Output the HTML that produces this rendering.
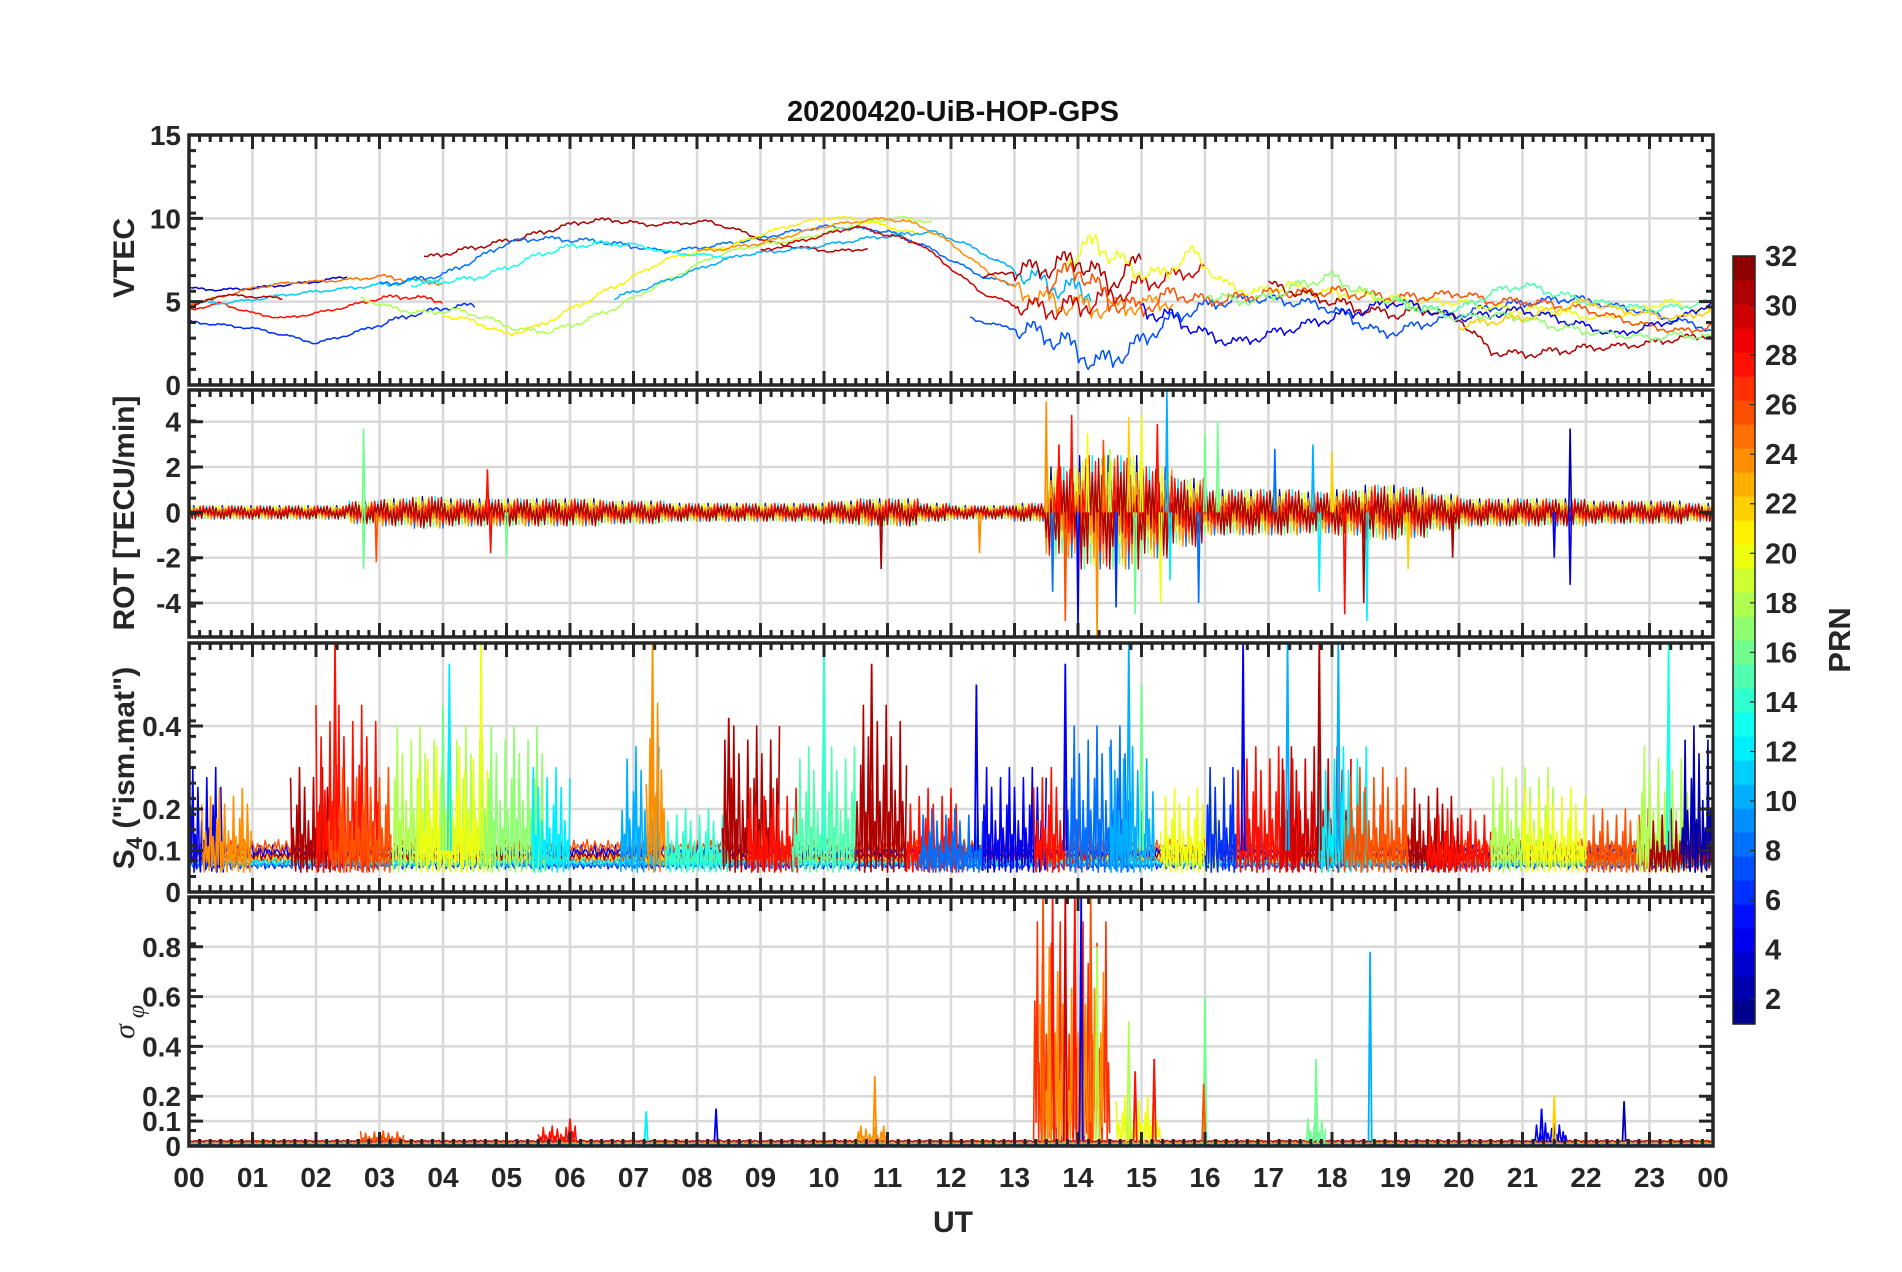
<!DOCTYPE html>
<html><head><meta charset="utf-8"><style>
body{margin:0;background:#fff}
svg{display:block;font-family:"Liberation Sans",sans-serif;font-weight:bold}
</style></head><body>
<svg id="c" width="1902" height="1272" viewBox="0 0 1902 1272"></svg>
<script>
// ---------- DATA ----------
const hourTicks=["00","01","02","03","04","05","06","07","08","09","10","11","12","13","14","15","16","17","18","19","20","21","22","23","00"];
const vtecTicks=[0,5,10,15];
const rotTicks=[-4,-2,0,2,4];
const s4Ticks=[0,0.1,0.2,0.4];
const sigTicks=[0,0.1,0.2,0.4,0.6,0.8];
const cbTicks=[2,4,6,8,10,12,14,16,18,20,22,24,26,28,30,32];
// VTEC arcs: [startHour, prn, values every 0.5h]
const vtecArcs=[
[0,3,[5.8,5.7,5.8,6.0,6.2,6.5]],
[0,6,[3.8,3.6,3.4,3.0,2.5,3.0,3.6,4.2,4.6,4.8]],
[0,28,[4.5,4.9,4.3,4.0,4.3,4.7,5.2,5.3,5.0]],
[0,25,[4.8,5.3,5.8,6.1,6.2,6.3,6.5,6.3,6.1]],
[0,11,[5.0,4.9,5.1,5.4,5.6,5.8,6.0,6.2,6.3]],
[0,31,[4.6,5.4,5.3,5.2]],
[3.7,31,[7.6,8.0,8.4,8.8,9.3,9.8,9.9,9.6,9.7,9.8,9.2,8.5,8.2,8.0,8.2]],
[3,8,[6.0,6.3,6.6,7.5,8.5,8.8,8.7,8.6,8.3,8.0,8.2,8.5,8.8,9.2,9.5,9.4,9.2,8.5,7.5,6.5,6.0]],
[2.7,18,[5.2,4.6,4.3,4.5,4.0,3.3,3.2,3.8,4.6,5.6,6.6,7.6,8.2,8.5,8.8,9.3,9.8,10.0,9.8]],
[4.0,21,[4.2,3.8,3.0,3.5,4.5,5.5,6.5,7.5,8.0,8.3,9.0,9.6,10.0,10.0,9.5,9.0]],
[3.5,13,[6.0,6.2,6.4,7.0,7.8,8.3,8.5,8.4,8.0,7.8,7.7]],
[6.7,10,[5.2,5.8,6.5,7.2,7.8,8.0,8.2,8.5,8.8,9.0,9.2,8.5,7.5,6.5,5.8,5.5]],
[8,24,[8.0,8.2,8.5,9.0,9.5,9.8,10.0,9.6,8.5,7.0,5.8,5.0,4.7,4.6,4.8,5.0]],
[9,30,[8.0,8.5,9.0,9.5,9.0,8.5,7.0,5.5,4.8,4.5,4.7,5.2,6.0,6.5,7.0]],
[12.3,7,[4.0,3.5,3.2,2.5,1.2,2.0,3.5,4.5,5.0,5.2,5.0,4.8,4.0,3.0,3.5,4.0,4.5,4.8,5.0,5.2,4.8,4.5,4.0,3.5,3.0,3.0]],
[13.8,20,[7.5,8.5,7.0,6.5,8.0,6.0,5.5,6.0,5.5,5.5,5.2,5.0,5.0,4.8,4.5,4.5,4.2,4.0,4.5,5.0,4.5,4.0,3.5,3.0]],
[13.5,26,[6.0,7.0,5.0,4.5,5.5,5.0,5.2,5.5,5.5,5.6,5.4,5.2,5.3,5.5,5.0,5.0,4.8,4.5,4.0,3.5,3.2,3.5,4.0,4.2,4.5,5.0]],
[12.5,31,[6.5,6.8,7.0,7.5,6.0,7.5]],
[17,31,[6.0,5.5,5.0,4.5,4.2,4.5,4.0,2.0,1.8,2.0,2.2,2.3,2.5,2.8,3.0,3.2]],
[19,15,[5.0,4.5,4.5,5.5,6.0,5.5,5.0,4.8,4.5,4.7,5.0]],
[15,4,[4.5,4.0,3.0,2.5,3.0,3.5,4.0,4.5,5.0,4.5,4.0,4.2,4.5,4.0,3.5,3.0,3.5,4.0,5.0,4.5,4.0,3.5]],
[16,17,[5.5,5.0,5.2,6.0,6.5,5.5,5.0,4.5,4.0,4.2,4.0,3.5,3.2,3.0,2.8,3.0,2.8]],
[20,22,[3.5,3.8,4.0,4.5,5.0,4.5,4.2,4.0,4.5,5.0]]
];
const vtecRough=[0.15,0.15,0.15,0.15,0.15,0.2,0.3,0.3,0.3,0.3,0.3,0.3,0.3,0.3,0.2,0.2,0.2,0.2,0.2,0.2,0.2,0.2,0.25,0.2,0.2,0.2,1.2,1.4,1.4,1.2,1.0,0.8,0.7,0.6,0.6,0.6,0.7,0.6,0.6,0.5,0.5,0.5,0.5,0.5,0.4,0.4,0.4,0.4];
const rotAmp=[0.3,0.3,0.3,0.3,0.3,0.5,0.6,0.7,0.6,0.6,0.6,0.6,0.6,0.5,0.5,0.4,0.4,0.4,0.4,0.4,0.5,0.6,0.6,0.4,0.3,0.3,0.4,2.0,2.5,2.5,2.0,1.5,1.0,1.0,1.0,0.9,1.0,1.2,1.1,0.8,0.6,0.6,0.6,0.6,0.5,0.5,0.5,0.4];
const rotPrns=[2,8,12,16,20,24,28,31];
const rotSpikes=[[2.75,3.7,16],[2.75,-2.5,16],[2.95,-2.2,26],[4.7,1.9,28],[4.75,-1.8,28],[5.0,-2.0,16],[10.9,-2.5,31],[12.45,-1.8,24],[13.5,4.9,24],[13.8,-4.8,26],[13.9,4.3,28],[14.0,-5.0,4],[14.15,3.5,20],[14.3,-5.5,24],[14.5,2.8,18],[14.8,4.2,22],[14.9,-4.5,16],[15.0,4.3,20],[15.25,3.9,28],[15.3,-4.0,20],[15.4,5.5,10],[15.45,-3.0,12],[15.9,-4.0,8],[16.0,3.5,16],[16.2,4.0,16],[17.1,2.8,8],[17.7,3.0,10],[17.8,-3.5,12],[18.0,2.7,22],[18.2,-4.5,28],[18.55,-4.8,12],[18.5,-4.0,31],[19.2,-2.5,22],[19.9,-2.0,31],[21.5,-2.0,4],[21.75,3.7,2],[21.75,-3.2,4],[13.6,-3.5,8],[14.6,-4.2,6],[13.7,3.0,28],[14.4,3.2,26]];
const s4Base=[[6,0.065],[10,0.07],[28,0.08],[12,0.075],[22,0.085],[31,0.09],[4,0.1],[26,0.11]];
const s4Bursts=[[0,0.6,0.3,4],[0.2,1.0,0.25,24],[1.6,2.4,0.3,31],[2.0,3.0,0.45,28],[2.2,3.2,0.3,26],[3.2,4.6,0.4,18],[3.6,4.8,0.35,20],[4.6,5.6,0.4,17],[5.4,6.0,0.3,12],[6.8,7.4,0.35,10],[7.2,7.5,0.55,24],[7.5,8.5,0.2,14],[8.4,9.3,0.4,31],[8.8,9.6,0.25,28],[9.5,10.5,0.35,15],[10.5,11.3,0.45,31],[11.3,12.2,0.25,28],[11.5,12.5,0.2,8],[12.5,13.5,0.3,4],[13.3,14.2,0.3,28],[13.8,14.8,0.4,8],[14.5,15.2,0.35,10],[15.3,16.2,0.25,20],[16.0,17.0,0.3,6],[16.5,17.5,0.35,28],[17.2,18.3,0.35,30],[17.8,18.6,0.35,12],[18.2,19.2,0.3,26],[19.2,20.0,0.25,31],[19.5,20.5,0.2,28],[20.5,21.5,0.3,18],[21.0,22.0,0.25,20],[22.0,23.0,0.2,26],[22.8,23.6,0.35,18],[23.0,24,0.2,31],[23.5,24,0.4,2]];
const s4Spikes=[[2.3,0.6,28],[4.1,0.55,12],[4.6,0.6,20],[7.3,0.6,24],[10.0,0.6,14],[12.4,0.5,4],[13.8,0.55,4],[14.8,0.6,10],[15.0,0.5,16],[16.6,0.6,4],[17.3,0.6,10],[17.8,0.6,31],[18.1,0.6,10],[23.3,0.6,13],[10.75,0.55,31],[8.5,0.42,31],[4.0,0.45,16]];
const sigBase=[[6,0.008],[28,0.015],[22,0.018],[12,0.01],[31,0.02]];
const sigBursts=[[13.3,14.5,0.9,27],[13.4,14.4,0.7,24],[14.6,15.3,0.2,20],[2.7,3.4,0.06,26],[5.5,6.1,0.08,28],[10.5,11.0,0.08,24],[21.2,21.7,0.1,4],[17.6,17.9,0.12,16]];
const sigSpikes=[[13.45,1.0,26],[13.6,1.0,28],[13.8,1.0,30],[13.95,1.0,28],[14.05,1.0,4],[14.2,1.0,26],[14.3,0.8,18],[14.8,0.5,18],[14.9,0.3,28],[15.2,0.35,28],[16.0,0.6,16],[15.98,0.25,26],[17.75,0.35,16],[18.6,0.78,10],[10.8,0.28,24],[21.5,0.2,22],[21.3,0.15,4],[22.6,0.18,2],[8.3,0.15,4],[7.2,0.14,12],[6.0,0.11,28],[13.55,0.8,24]];
// ---------- RENDER ----------
const NS="http://www.w3.org/2000/svg";
const svg=document.getElementById('c');
function el(tag,attrs,parent){const e=document.createElementNS(NS,tag);for(const k in attrs)e.setAttribute(k,attrs[k]);(parent||svg).appendChild(e);return e;}
function jet(p){
  const v=(p-0.5)/32;
  const f=x=>Math.max(0,Math.min(1,x));
  const r=f(1.5-Math.abs(4*v-3)),g=f(1.5-Math.abs(4*v-2)),b=f(1.5-Math.abs(4*v-1));
  return `rgb(${Math.round(r*255)},${Math.round(g*255)},${Math.round(b*255)})`;
}
const pat=[0.1,0.8,0.3,1.0,0.0,0.6,0.2,0.9,0.45,0.05,0.7,0.35,0.55,0.15,0.95,0.25,0.65,0.4];
const L=189,R=1713;
const xS=h=>L+(R-L)*h/24;
const panels=[
 {name:'vtec',top:135,bot:385,min:0,max:15,ticks:vtecTicks},
 {name:'rot',top:390,bot:637,min:-5.5,max:5.4,ticks:rotTicks},
 {name:'s4',top:643,bot:892,min:0,max:0.6,ticks:s4Ticks},
 {name:'sigma',top:897,bot:1146,min:0,max:1.0,ticks:sigTicks}
];
panels.forEach(p=>{p.y=v=>p.bot-(p.bot-p.top)*(v-p.min)/(p.max-p.min);});
const clip=(p,v)=>Math.max(p.min,Math.min(p.max,v));

let t=el('text',{x:953,y:121,'text-anchor':'middle','font-size':29,fill:'#111'});t.textContent='20200420-UiB-HOP-GPS';



panels.forEach((p,pi)=>{
  const g=el('g',{});
  
  
  for(let h=1;h<24;h++){const l=el('line',{x1:xS(h),x2:xS(h),y1:p.top,y2:p.bot,stroke:'#d9d9d9','stroke-width':2.5},g);
    
    }
  p.ticks.forEach(v=>{if(v===p.min||v===p.max)return;const l=el('line',{x1:L,x2:R,y1:p.y(v),y2:p.y(v),stroke:'#d9d9d9','stroke-width':2.5},g);
    
    });
  p.g=g;
});

function poly(g,pts,color,w,name){
  const e=el('polyline',{points:pts.map(a=>a[0].toFixed(1)+','+a[1].toFixed(1)).join(' '),fill:'none',stroke:color,'stroke-width':w||1.4,'stroke-linejoin':'round'},g);
  
  
  return e;
}
{const p=panels[0];
 vtecArcs.forEach((a,ai)=>{
  const [s,prn,vals]=a;const pts=[];
  const end=Math.min(24,s+(vals.length-1)*0.5);
  let k=ai*3;
  for(let h=s;h<=end;h+=0.03){
    const i=(h-s)/0.5,i0=Math.floor(i),i1=Math.min(vals.length-1,i0+1),fr=i-i0;
    const base=vals[i0]*(1-fr)+vals[i1]*fr;
    const r=vtecRough[Math.min(47,Math.floor(h*2))];
    const v=base+r*(pat[k%pat.length]-0.5)*(k%2?1:-1);k++;
    pts.push([xS(h),p.y(clip(p,v))]);
  }
  poly(p.g,pts,jet(prn),1.5,'vtec-arc-prn'+prn);
 });}
{const p=panels[1];
 rotPrns.forEach((prn,pi)=>{
  const pts=[];let k=pi*5;
  for(let h=0;h<=24;h+=0.025){
    const a=rotAmp[Math.min(47,Math.floor(h*2))];
    const v=a*pat[k%pat.length]*((k+pi)%2?1:-1);k++;
    pts.push([xS(h),p.y(clip(p,v))]);
  }
  poly(p.g,pts,jet(prn),1.3,'rot-series-prn'+prn);
 });
 rotSpikes.forEach(s=>{
  const l=el('polyline',{points:`${xS(s[0]-0.02)},${p.y(0)} ${xS(s[0])},${p.y(clip(p,s[1]))} ${xS(s[0]+0.02)},${p.y(0)}`,fill:'none',stroke:jet(s[2]),'stroke-width':1.6},p.g);
  
  
 });}
function fillPanel(p,base,bursts,spikes,pre){
  base.forEach((b,bi)=>{
    const pts=[];let k=bi*4;
    for(let h=0;h<=24;h+=0.03){const v=b[1]*(0.85+0.3*pat[k%pat.length]);k++;pts.push([xS(h),p.y(clip(p,v))]);}
    poly(p.g,pts,jet(b[0]),1.4,pre+'-baseline-prn'+b[0]);
  });
  bursts.forEach((b,bi)=>{
    const pts=[];let k=bi*7;const lo=0.08*(p.max-p.min)*(pre==='s4'?1:0.2);
    for(let h=b[0];h<=b[1];h+=0.02){const q=pat[k%pat.length];const v=lo+(b[2]-lo)*q*q;k++;pts.push([xS(h),p.y(clip(p,v))]);}
    poly(p.g,pts,jet(b[3]),1.6,pre+'-burst-prn'+b[3]);
  });
  spikes.forEach(s=>{
    const b0=p.y(pre==='s4'?0.1:0.02);
    const l=el('polyline',{points:`${xS(s[0]-0.025)},${b0} ${xS(s[0])},${p.y(clip(p,s[1]))} ${xS(s[0]+0.025)},${b0}`,fill:'none',stroke:jet(s[2]),'stroke-width':1.8},p.g);
    
    
  });
}
fillPanel(panels[2],s4Base,s4Bursts,s4Spikes,'s4');
fillPanel(panels[3],sigBase,sigBursts,sigSpikes,'sigma');

panels.forEach((p,pi)=>{
  const g=el('g',{});
  
  
  const f=el('rect',{x:L,y:p.top,width:R-L,height:p.bot-p.top,fill:'none',stroke:'#262626','stroke-width':3.5},g);
  
  
  let d='';
  for(let m=0;m<=24*6;m++){const x=xS(m/6);const len=m%6===0?14:7;d+=`M${x},${p.top}v${len}M${x},${p.bot}v${-len}`;}
  p.ticks.forEach(v=>{const y=p.y(v);d+=`M${L},${y}h14M${R},${y}h-14`;});
  for(let i=1;i<16;i++){const y=p.top+(p.bot-p.top)*i/16;d+=`M${L},${y}h7M${R},${y}h-7`;}
  el('path',{d,stroke:'#262626','stroke-width':3,fill:'none'},g);
  p.ticks.forEach(v=>{
    const tx=el('text',{x:181,y:p.y(v)+10,'text-anchor':'end','font-size':28,fill:'#262626'},g);
    tx.textContent=String(v);
    
    
  });
});
hourTicks.forEach((s,i)=>{
  const tx=el('text',{x:xS(i),y:1187,'text-anchor':'middle','font-size':28,fill:'#262626'});
  tx.textContent=s;
  
  
});
t=el('text',{x:953,y:1232,'text-anchor':'middle','font-size':30,fill:'#262626'});t.textContent='UT';


function ylab(txt,cy,name){
  const tx=el('text',{x:0,y:0,'text-anchor':'middle','font-size':30,fill:'#262626',transform:`translate(134,${cy}) rotate(-90)`});
  tx.innerHTML=txt;
  
  
  return tx;
}
ylab('VTEC',258,'vtec-axis-title');
ylab('ROT [TECU/min]',513,'rot-axis-title');
ylab('S<tspan font-size="22" dy="8">4</tspan><tspan dy="-8"> ("ism.mat")</tspan>',768,'s4-axis-title');
{const tx=el('text',{x:0,y:0,'text-anchor':'middle','font-size':30,'font-style':'italic','font-weight':'normal','font-family':'Liberation Serif, serif',fill:'#262626',transform:`translate(134,1022) rotate(-90)`});
 tx.innerHTML='σ<tspan font-size="24" dy="10"> φ</tspan>';
 
 }

{const g=el('g',{});
 
 
 const cx=1733,cw=22,ct=256,cb=1024;
 for(let i=0;i<32;i++){const h=(cb-ct)/32;el('rect',{x:cx,y:cb-(i+1)*h,width:cw,height:h+0.6,fill:jet(i+1)},g);}
 el('rect',{x:cx,y:ct,width:cw,height:cb-ct,fill:'none',stroke:'#262626','stroke-width':1.5},g);
 cbTicks.forEach(v=>{
   const y=cb-(cb-ct)*(v-1)/31;
   el('line',{x1:cx+cw-5,x2:cx+cw,y1:y,y2:y,stroke:'#262626','stroke-width':1.2},g);
   const tx=el('text',{x:cx+32,y:y+10,'font-size':29,fill:'#262626'},g);
   tx.textContent=String(v);
   
   
 });
 const tx=el('text',{x:0,y:0,'text-anchor':'middle','font-size':31,fill:'#262626',transform:'translate(1850,640) rotate(-90)'},g);
 tx.textContent='PRN';
 
 
}
</script>
</body></html>
